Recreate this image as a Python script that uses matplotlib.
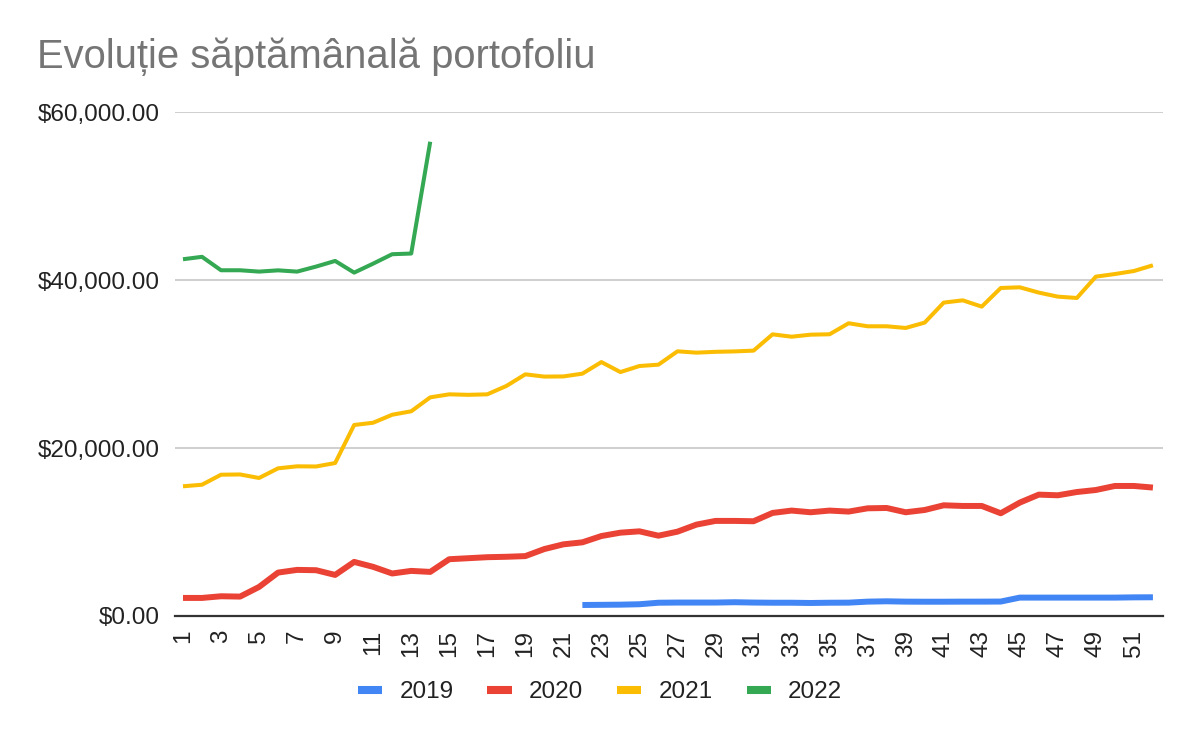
import matplotlib
matplotlib.use("Agg")
import matplotlib.pyplot as plt
from matplotlib.lines import Line2D
from matplotlib.ticker import FuncFormatter
import numpy as np

plt.rcParams['font.family'] = ['Liberation Sans', 'DejaVu Sans']

weeks = list(range(1, 53))
series_names = ["2019", "2020", "2021", "2022"]
colors = ["#4285F4", "#EA4335", "#FBBC04", "#34A853"]
widths = [4.3, 4.3, 2.9, 2.9]

# 2019 starts at week 22
v2019 = [None] * 21 + [1310, 1330, 1350, 1400, 1580, 1600, 1600, 1600, 1640, 1600,
                       1580, 1580, 1550, 1580, 1590, 1710, 1750, 1710, 1700, 1700,
                       1710, 1710, 1720, 2190, 2190, 2190, 2190, 2190, 2190, 2220, 2230]
v2020 = [2150, 2150, 2350, 2310, 3460, 5170, 5490, 5450, 4890, 6440,
         5850, 5060, 5370, 5250, 6760, 6880, 7000, 7050, 7130, 7970,
         8530, 8770, 9520, 9920, 10080, 9560, 10040, 10880, 11320, 11320,
         11280, 12270, 12550, 12350, 12550, 12430, 12820, 12860, 12350, 12620,
         13180, 13100, 13100, 12230, 13500, 14450, 14370, 14760, 15000, 15480,
         15480, 15290]
v2021 = [15440, 15630, 16820, 16850, 16430, 17580, 17820, 17800, 18210, 22740,
         23010, 23960, 24370, 26030, 26390, 26330, 26390, 27380, 28770, 28500,
         28520, 28850, 30230, 29040, 29760, 29920, 31510, 31350, 31450, 31500,
         31590, 33530, 33250, 33490, 33540, 34850, 34490, 34490, 34290, 34930,
         37310, 37580, 36830, 39050, 39130, 38500, 38020, 37860, 40400, 40710,
         41070, 41750]
# 2022 only has the first 14 weeks
v2022 = [42470, 42760, 41160, 41160, 41000, 41150, 41000, 41600, 42270, 40880,
         41950, 43070, 43150, 56460] + [None] * 38

y_ticks = [0, 20000, 40000, 60000]
x_ticks = list(range(1, 53, 2))

fig = plt.figure(figsize=(12, 7.42), dpi=100)
ax = fig.add_axes([175 / 1200, 1 - 616 / 742, (1163 - 175) / 1200, (616 - 112) / 742])

for vals, name, c, lw in zip([v2019, v2020, v2021, v2022], series_names, colors, widths):
    y = np.array([np.nan if v is None else v for v in vals], dtype=float)
    ax.plot(weeks, y, color=c, lw=lw, label=name, solid_joinstyle='round',
            solid_capstyle='butt', zorder=3)

ax.set_xlim(0.58, 52.53)
ax.set_ylim(0, 60000)
ax.set_yticks(y_ticks)
ax.yaxis.set_major_formatter(FuncFormatter(lambda v, p: "${:,.2f}".format(v)))
ax.set_xticks(x_ticks)
ax.set_xticklabels([str(w) for w in x_ticks], rotation=90)
ax.tick_params(axis='both', length=0, labelsize=17.5, colors='#222222')
ax.tick_params(axis='y', pad=11)
ax.tick_params(axis='x', pad=10)
ax.grid(axis='y', color='#cccccc', lw=1.3, zorder=0)
for s in ['top', 'right', 'left']:
    ax.spines[s].set_visible(False)
ax.spines['bottom'].set_color('#333333')
ax.spines['bottom'].set_linewidth(1.6)
ax.spines['bottom'].set_zorder(4)

fig.text(37 / 1200, 1 - 68 / 742, "Evoluție săptămânală portofoliu", fontsize=28.8,
         color='#757575', ha='left', va='baseline')

handles = [Line2D([0], [0], color=c, lw=5.8, solid_capstyle='butt') for c in colors]
fig.legend(handles, series_names, loc='center', bbox_to_anchor=(0.5, 1 - 692 / 742),
           ncol=4, frameon=False, fontsize=17.5, handlelength=1.0, handletextpad=0.7,
           columnspacing=1.4, labelcolor='#222222')

fig.savefig("out.png", dpi=100)
